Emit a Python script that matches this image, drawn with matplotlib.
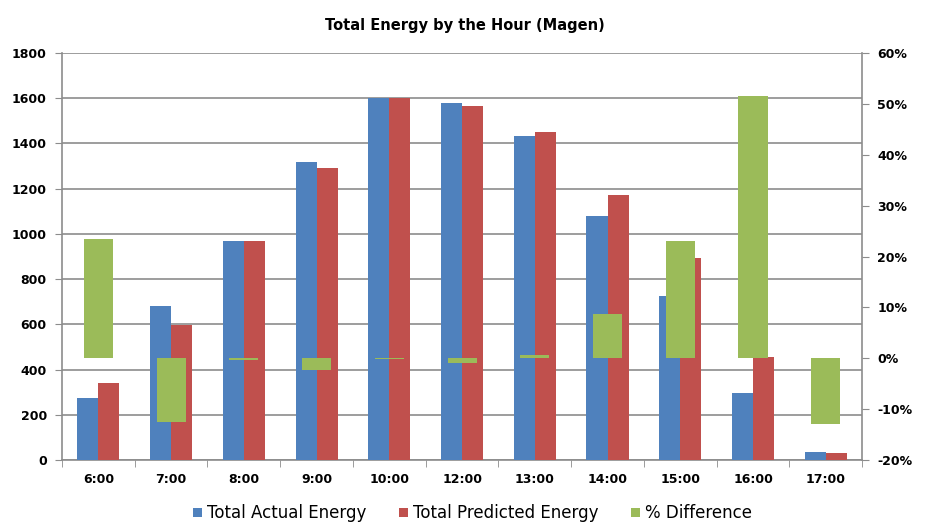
import matplotlib.pyplot as plt
import numpy as np
from matplotlib.ticker import FuncFormatter, MultipleLocator

plt.rcParams['font.family'] = ['DejaVu Sans']

# Data
hours = ["6:00", "7:00", "8:00", "9:00", "10:00", "12:00",
         "13:00", "14:00", "15:00", "16:00", "17:00"]
actual = [275, 680, 970, 1320, 1600, 1580, 1435, 1080, 725, 298, 37]
predicted = [340, 597, 970, 1290, 1600, 1565, 1450, 1173, 892, 457, 30]
pct_diff = [0.235, -0.125, -0.003, -0.023, -0.002, -0.01, 0.007, 0.087, 0.23, 0.515, -0.13]

blue = '#4F81BD'
red = '#C0504D'
green = '#9BBB59'
grid_col = '#8C8C8C'

fig = plt.figure(figsize=(9.3, 5.25), dpi=100)
ax = fig.add_axes([0.0667, 0.1238, 0.8603, 0.7752])
x = np.arange(len(hours))
w = 0.29

# primary axis bars
ax.bar(x - w / 2, actual, w, color=blue, label='Total Actual Energy', zorder=3)
ax.bar(x + w / 2, predicted, w, color=red, label='Total Predicted Energy', zorder=3)
ax.set_ylim(0, 1800)
ax.set_xlim(-0.5, len(hours) - 0.5)
ax.yaxis.set_major_locator(MultipleLocator(200))
ax.grid(axis='y', color=grid_col, linewidth=1.2, zorder=0)
ax.set_axisbelow(True)

ax.set_xticks(x)
ax.set_xticklabels(hours)
ax.set_xticks(np.arange(len(hours) + 1) - 0.5, minor=True)
ax.tick_params(axis='x', which='major', length=0, pad=9, labelsize=9)
ax.tick_params(axis='x', which='minor', length=5, color=grid_col, direction='out')
ax.tick_params(axis='y', length=5, color=grid_col, labelsize=9, pad=6)
for lbl in ax.get_xticklabels() + ax.get_yticklabels():
    lbl.set_fontweight('bold')

for s in ['left', 'bottom', 'right']:
    ax.spines[s].set_color(grid_col)
    ax.spines[s].set_linewidth(1.2)
ax.spines['top'].set_visible(False)

# secondary axis for % difference
ax2 = ax.twinx()
ax2.bar(x, pct_diff, 0.40, color=green, label='% Difference', zorder=3)
ax2.set_ylim(-0.2, 0.6)
ax2.yaxis.set_major_locator(MultipleLocator(0.1))
ax2.yaxis.set_major_formatter(FuncFormatter(lambda v, p: f"{v * 100:.0f}%"))
ax2.tick_params(axis='y', length=5, color=grid_col, labelsize=9, pad=6)
for lbl in ax2.get_yticklabels():
    lbl.set_fontweight('bold')
for s in ax2.spines.values():
    s.set_visible(False)

fig.suptitle('Total Energy by the Hour (Magen)', x=0.5, y=0.965,
             fontsize=10.5, fontweight='bold')

h1, l1 = ax.get_legend_handles_labels()
h2, l2 = ax2.get_legend_handles_labels()
fig.legend(h1 + h2, l1 + l2, loc='center', bbox_to_anchor=(0.508, 0.022),
           ncol=3, frameon=False, fontsize=12, handlelength=0.5, handleheight=0.5,
           handletextpad=0.3, columnspacing=2.0)

fig.savefig('out.png', dpi=100)
